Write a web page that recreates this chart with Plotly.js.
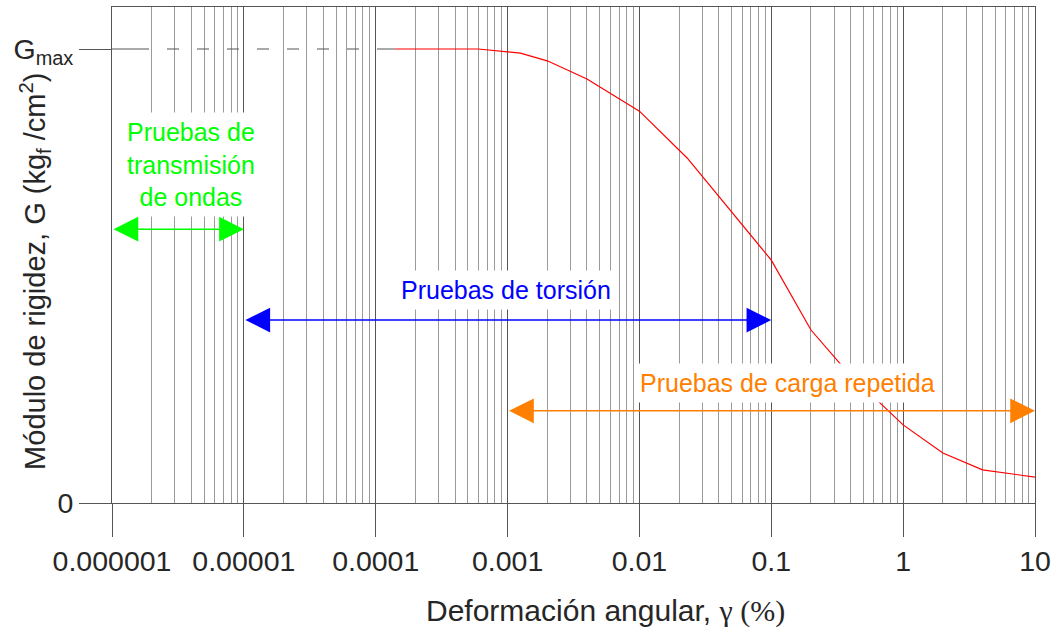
<!DOCTYPE html>
<html>
<head>
<meta charset="utf-8">
<script src="https://cdn.plot.ly/plotly-3.0.1.min.js"></script>
<style>html,body{margin:0;padding:0;background:#fff;}#chart{width:1055px;height:632px;}</style>
</head>
<body>
<div id="chart"></div>
<script>
// ---- data ----
const strainPct = [1.4e-4, 6e-4, 1.25e-3, 2e-3, 4e-3, 0.01, 0.023, 0.1, 0.2, 0.33, 0.67, 1, 2, 4, 10];
const gRatio    = [1.0, 1.0, 0.991, 0.974, 0.934, 0.863, 0.760, 0.535, 0.381, 0.308, 0.220, 0.172, 0.110, 0.073, 0.057];
const gmaxRefX  = [1e-6, 1.4e-4];
const gmaxRefY  = [1, 1];
const xTickVals = [1e-6, 1e-5, 1e-4, 1e-3, 1e-2, 1e-1, 1, 10];
const xTickText = ['0.000001', '0.00001', '0.0001', '0.001', '0.01', '0.1', '1', '10'];
const yTickVals = [0, 1];
const yTickText = ['0', 'G<sub>max</sub>'];
const testNames  = ['Pruebas de<br>transmisión<br>de ondas', 'Pruebas de torsión', 'Pruebas de carga repetida'];
const testStart  = [1e-6, 1e-5, 1e-3];
const testEnd    = [1e-5, 0.1, 10];
const testLevel  = [0.603, 0.403, 0.203];
const testColors = ['#00ff00', '#0000ff', '#ff8000'];
const xTitle = 'Deformación angular, <span style="font-family:Liberation Serif">γ (%)</span>';
const yTitle = 'Módulo de rigidez, G (kg<sub>f</sub> /cm<sup>2</sup>)';

// minor grid values (2..9 x 10^k)
const minorVals = [];
for (let k = -6; k <= 0; k++) for (let d = 2; d <= 9; d++) minorVals.push(+(d * Math.pow(10, k)).toPrecision(3));

const FONT = 'Liberation Sans, Arial, sans-serif';
const TXT = '#262626';

const traces = [
  { x: gmaxRefX, y: gmaxRefY, mode: 'lines', hoverinfo: 'skip', showlegend: false,
    line: { color: '#555', width: 1.2, dash: '37px,18px,12px,18px,12px,18px,12px,18px,12px,18px,12px,18px,12px,18px,12px,18px,40px' } },
  { x: strainPct, y: gRatio, mode: 'lines', showlegend: false,
    line: { color: '#ff0000', width: 1.2 } }
];

const labelPos = [
  { x: 3.97e-6, y: 0.745 },
  { x: 9.7e-4, y: 0.469 },
  { x: 0.133, y: 0.264 }
];

const annotations = [];
for (let i = 0; i < testNames.length; i++) {
  annotations.push({
    xref: 'x', yref: 'y', axref: 'x', ayref: 'y',
    x: Math.log10(testEnd[i]), y: testLevel[i],
    ax: Math.log10(testStart[i]), ay: testLevel[i],
    text: '', showarrow: true, arrowside: 'end+start',
    arrowhead: 2, startarrowhead: 2, arrowsize: 3.3, startarrowsize: 3.3,
    arrowwidth: 1.5, arrowcolor: testColors[i], standoff: 0, startstandoff: 0
  });
}
for (let i = 0; i < testNames.length; i++) {
  annotations.push({
    xref: 'x', yref: 'y', x: Math.log10(labelPos[i].x), y: labelPos[i].y,
    text: testNames[i], showarrow: false, bgcolor: '#ffffff', borderpad: 5,
    font: { family: FONT, size: 25, color: testColors[i] }, align: 'center'
  });
}
// axis titles
annotations.push({
  xref: 'paper', yref: 'paper', x: -0.0834, y: 0.466, xanchor: 'center', yanchor: 'middle', textangle: -90,
  text: yTitle, showarrow: false,
  font: { family: FONT, size: 29, color: TXT }
});
annotations.push({
  xref: 'paper', yref: 'paper', x: 0.5345, y: -0.218, xanchor: 'center', yanchor: 'middle',
  text: xTitle, showarrow: false,
  font: { family: FONT, size: 30, color: TXT }
});

const layout = {
  width: 1055, height: 632,
  margin: { l: 112, r: 20, t: 7, b: 129 },
  paper_bgcolor: '#fff', plot_bgcolor: '#fff',
  font: { family: FONT, size: 28, color: TXT },
  showlegend: false,
  xaxis: {
    type: 'log', range: [-6, 1], tickmode: 'array', tickvals: xTickVals, ticktext: xTickText,
    ticks: 'outside', ticklen: 33, tickwidth: 1, tickcolor: '#555',
    showgrid: true, gridcolor: '#555', gridwidth: 1,
    minor: { tickmode: 'array', tickvals: minorVals, showgrid: true, gridcolor: '#9a9a9a', gridwidth: 1, ticks: '' },
    showline: true, linecolor: '#555', linewidth: 1, mirror: true,
    tickfont: { family: FONT, size: 28.5, color: TXT },
    fixedrange: true
  },
  yaxis: {
    range: [0, 1.0925], tickmode: 'array', tickvals: yTickVals, ticktext: yTickText,
    ticks: 'outside', ticklen: 32, tickwidth: 1, tickcolor: '#555',
    showgrid: false, zeroline: false,
    showline: true, linecolor: '#555', linewidth: 1, mirror: true,
    tickfont: { family: FONT, size: 28.5, color: TXT },
    fixedrange: true
  },
  annotations: annotations
};

Plotly.newPlot('chart', traces, layout, { displayModeBar: false, staticPlot: true });
</script>
</body>
</html>
